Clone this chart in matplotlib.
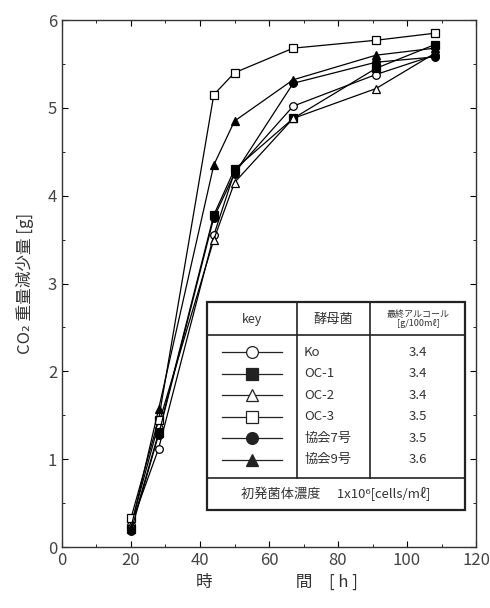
import matplotlib
matplotlib.use('Agg')
import matplotlib.pyplot as plt
from matplotlib.lines import Line2D

plt.rcParams['font.family'] = ['Noto Sans CJK JP', 'DejaVu Sans']

hours = [20, 28, 44, 50, 67, 91, 108]

ko = [0.25, 1.12, 3.55, 4.27, 5.02, 5.38, 5.60]
oc1 = [0.20, 1.30, 3.78, 4.30, 4.88, 5.45, 5.72]
oc2 = [0.25, 1.40, 3.50, 4.15, 4.88, 5.22, 5.62]
oc3 = [0.33, 1.45, 5.15, 5.40, 5.68, 5.77, 5.85]
k7 = [0.18, 1.28, 3.75, 4.25, 5.28, 5.52, 5.58]
k9 = [0.22, 1.57, 4.35, 4.85, 5.32, 5.60, 5.68]

names = ['Ko', 'OC-1', 'OC-2', 'OC-3', '協会7号', '協会9号']
alcohol = ['3.4', '3.4', '3.4', '3.5', '3.5', '3.6']
series = [ko, oc1, oc2, oc3, k7, k9]
markers = ['o', 's', '^', 's', 'o', '^']
filled = [False, True, False, False, True, True]

fig = plt.figure(figsize=(4.9, 6.08), dpi=100)
ax = fig.add_axes([0.1265, 0.1003, 0.845, 0.8667])

for ys, m, f in zip(series, markers, filled):
    ax.plot(hours, ys, color='black', lw=0.9, marker=m, ms=5.5,
            mfc='black' if f else 'white', mec='black', mew=0.9)

ax.set_xlim(0, 120)
ax.set_ylim(0, 6)
ax.set_xticks(range(0, 121, 20))
ax.set_xticks(range(0, 121, 10), minor=True)
ax.set_yticks(range(0, 7))
ax.set_yticks([i * 0.5 for i in range(13)], minor=True)
ax.tick_params(which='both', direction='in', top=True, right=True,
               labelsize=12, labelcolor='#444')
ax.tick_params(which='major', length=4)
ax.tick_params(which='minor', length=2)
for s in ax.spines.values():
    s.set_linewidth(1.0)
    s.set_color('#333')

ax.set_xlabel('時　　　　　間　[ h ]', fontsize=12, color='#333')
ax.xaxis.set_label_coords(0.52, -0.05)
ax.set_ylabel('CO₂ 重量減少量 [g]', fontsize=12, color='#333', labelpad=10)

# legend table drawn in axes coordinates
T = ax.transAxes
def px(x):
    return (x - 62) / 414.0
def py(y):
    return (547 - y) / 527.0

L, R, TOP, BOT = px(207), px(465), py(302), py(510)
ax.add_patch(plt.Rectangle((L, BOT), R - L, TOP - BOT, transform=T,
                           fill=True, fc='white', ec='#222', lw=1.6, zorder=5))
for yv in (py(335), py(478)):
    ax.add_line(Line2D([L, R], [yv, yv], transform=T, color='#222', lw=1.2, zorder=6))
for xv in (px(297), px(370)):
    ax.add_line(Line2D([xv, xv], [py(478), TOP], transform=T, color='#222', lw=1.2, zorder=6))

hy = py(319)
ax.text(px(252), hy, 'key', transform=T, ha='center', va='center', fontsize=9, color='#333', zorder=7)
ax.text(px(333), hy, '酵母菌', transform=T, ha='center', va='center', fontsize=9.5, color='#333', zorder=7)
ax.text(px(418), hy, '最終アルコール\n[g/100mℓ]', transform=T, ha='center', va='center',
        fontsize=6.5, color='#333', linespacing=1.0, zorder=7)

row_y = [352, 373.5, 395, 416.5, 438, 459.5]
for yy, n, a, m, f in zip(row_y, names, alcohol, markers, filled):
    yv = py(yy)
    ax.add_line(Line2D([px(222), px(282)], [yv, yv], transform=T, color='#222', lw=0.9, zorder=7))
    ax.add_line(Line2D([px(252)], [yv], transform=T, marker=m, ms=8.5, color='#222',
                       mfc='#222' if f else 'white', mec='#222', mew=0.9, zorder=8))
    ax.text(px(304), yv, n, transform=T, ha='left', va='center', fontsize=9.5, color='#333', zorder=7)
    ax.text(px(418), yv, a, transform=T, ha='center', va='center', fontsize=9.5, color='#333', zorder=7)

ax.text(px(336), py(494), '初発菌体濃度　 1x10⁶[cells/mℓ]', transform=T, ha='center', va='center',
        fontsize=9.5, color='#333', zorder=7)

fig.savefig('out.png', dpi=100)
